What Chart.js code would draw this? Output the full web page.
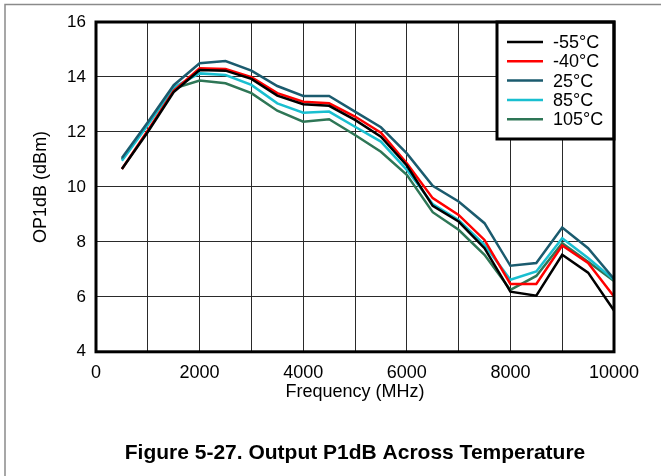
<!DOCTYPE html>
<html>
<head>
<meta charset="utf-8">
<script src="https://cdn.jsdelivr.net/npm/chart.js@4/dist/chart.umd.min.js"></script>
<style>
  html, body { margin: 0; padding: 0; background: #fff; }
  #wrap { width: 661px; height: 476px; }
</style>
</head>
<body>
<div id="wrap"><canvas id="p1dbChart" width="661" height="476"></canvas></div>
<script>
// frequency points (MHz)
const freqs = [500, 1000, 1500, 2000, 2500, 3000, 3500, 4000, 4500, 5000,
  5500, 6000, 6500, 7000, 7500, 8000, 8500, 9000, 9500, 10000];

// OP1dB (dBm) per temperature
const tM55 = [10.65, 12.0, 13.45, 14.25, 14.23, 13.93, 13.32, 13.01, 12.95, 12.44,
  11.83, 10.78, 9.31, 8.74, 7.77, 6.19, 6.04, 7.53, 6.88, 5.5];
const tM40 = [10.65, 12.05, 13.5, 14.32, 14.29, 13.99, 13.41, 13.1, 13.04, 12.56,
  11.97, 10.86, 9.59, 8.98, 8.07, 6.47, 6.47, 7.87, 7.23, 6.01];
const t25 = [11.05, 12.35, 13.7, 14.5, 14.58, 14.23, 13.67, 13.31, 13.31, 12.74,
  12.17, 11.22, 10.04, 9.47, 8.68, 7.13, 7.23, 8.52, 7.77, 6.65];
const t85 = [10.95, 12.25, 13.62, 14.13, 14.07, 13.71, 13.04, 12.7, 12.74, 12.19,
  11.65, 10.62, 9.38, 8.8, 7.89, 6.62, 6.92, 8.13, 7.41, 6.62];
const t105 = [11.0, 12.3, 13.58, 13.87, 13.77, 13.41, 12.77, 12.37, 12.46, 11.89,
  11.28, 10.44, 9.08, 8.44, 7.53, 6.25, 6.76, 7.95, 7.28, 6.58];

const seriesLabels = ["-55°C", "-40°C", "25°C", "85°C", "105°C"];
const seriesColors = ["#000000", "#ff0000", "#1b5b6e", "#19bfd0", "#2e7656"];

// axis ticks
const xMin = 0, xMax = 10000, xStep = 1000, xLabelStep = 2000;
const yMin = 4, yMax = 16, yStep = 2;

const FONT = "'Liberation Sans', Arial, sans-serif";

const toPoints = (vals) => vals.map((v, i) => ({ x: freqs[i], y: v }));

// page frame + plot border + boxed legend
const decorPlugin = {
  id: "decor",
  beforeDraw(chart) {
    const ctx = chart.ctx;
    ctx.save();
    ctx.strokeStyle = "#8a8a8a";
    ctx.lineWidth = 1.5;
    ctx.beginPath();
    ctx.moveTo(5, 476);
    ctx.lineTo(5, 4.5);
    ctx.lineTo(661, 4.5);
    ctx.stroke();
    ctx.restore();
  },
  afterDraw(chart) {
    const { ctx, chartArea: a } = chart;
    ctx.save();
    // legend box
    const w = 117, h = 117;
    const lx = a.right - w, ly = a.top;
    ctx.fillStyle = "#fff";
    ctx.fillRect(lx, ly, w, h);
    ctx.strokeStyle = "#000";
    ctx.lineWidth = 3;
    ctx.strokeRect(lx, ly, w, h);
    ctx.font = "18px " + FONT;
    ctx.textBaseline = "middle";
    chart.data.datasets.forEach((ds, i) => {
      const y = ly + 20 + i * 19.3;
      ctx.strokeStyle = ds.borderColor;
      ctx.lineWidth = 2.5;
      ctx.beginPath();
      ctx.moveTo(lx + 10, y);
      ctx.lineTo(lx + 46, y);
      ctx.stroke();
      ctx.fillStyle = "#000";
      ctx.fillText(ds.label, lx + 56, y + 1);
    });
    // plot border
    ctx.strokeStyle = "#000";
    ctx.lineWidth = 3;
    ctx.strokeRect(a.left, a.top, a.right - a.left, a.bottom - a.top);
    ctx.restore();
  },
};

window.addEventListener("DOMContentLoaded", () => {
  const ctx = document.getElementById("p1dbChart").getContext("2d");
  const allSeries = [tM55, tM40, t25, t85, t105];

  new Chart(ctx, {
    type: "line",
    data: {
      datasets: allSeries.map((vals, i) => ({
        label: seriesLabels[i],
        data: toPoints(vals),
        borderColor: seriesColors[i],
        backgroundColor: seriesColors[i],
        borderWidth: 2.5,
        pointRadius: 0,
        tension: 0,
        fill: false,
      })),
    },
    options: {
      responsive: false,
      animation: false,
      layout: {
        padding: { top: 22, right: 47, bottom: 0, left: 0 },
      },
      plugins: {
        legend: { display: false },
        tooltip: { enabled: false },
        title: {
          display: true,
          text: "Figure 5-27. Output P1dB Across Temperature",
          position: "bottom",
          fullSize: false,
          color: "#000",
          font: { family: FONT, size: 21, weight: "bold" },
          padding: { top: 29, bottom: 10 },
        },
      },
      scales: {
        x: {
          type: "linear",
          min: xMin,
          max: xMax,
          afterFit: (s) => { s.height = 60; },
          afterBuildTicks: (s) => {
            s.ticks = [];
            for (let v = xMin; v <= xMax; v += xStep) s.ticks.push({ value: v });
          },
          ticks: {
            stepSize: xStep,
            color: "#000",
            padding: 10,
            maxRotation: 0,
            autoSkip: false,
            font: { family: FONT, size: 18 },
            callback: (v) => (v % xLabelStep === 0 ? String(v) : ""),
          },
          grid: { color: "#2a2a2a", lineWidth: 1, drawTicks: false },
          border: { display: false },
          title: {
            display: true,
            text: "Frequency (MHz)",
            color: "#000",
            font: { family: FONT, size: 18 },
            padding: { top: 0, bottom: 9 },
          },
        },
        y: {
          min: yMin,
          max: yMax,
          afterFit: (s) => { s.width = 96; },
          ticks: {
            stepSize: yStep,
            color: "#000",
            padding: 10,
            font: { family: FONT, size: 17 },
          },
          grid: { color: "#2a2a2a", lineWidth: 1, drawTicks: false },
          border: { display: false },
          title: {
            display: true,
            text: "OP1dB (dBm)",
            color: "#000",
            font: { family: FONT, size: 18 },
            padding: { top: 30, bottom: 0 },
          },
        },
      },
    },
    plugins: [decorPlugin],
  });
});
</script>
</body>
</html>
